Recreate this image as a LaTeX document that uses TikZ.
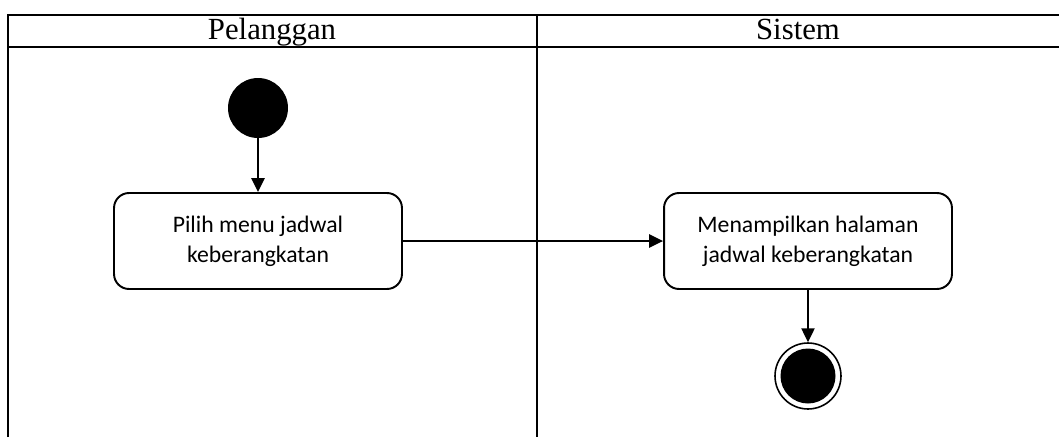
\documentclass[tikz,border=0pt]{standalone}
\usepackage{fontspec}
\setmainfont{Liberation Serif}
\newfontfamily\actfont{Carlito}
\usetikzlibrary{arrows.meta,positioning}
\tikzset{
    lanetitle/.style={font=\fontsize{17.5}{21}\selectfont, inner sep=0pt, anchor=base},
    laneline/.style={line width=0.6pt},
    action/.style={draw, line width=1.1pt, rounded corners=0.3cm, minimum width=5.76cm,
        minimum height=1.92cm, align=center, font=\actfont\fontsize{13.5}{17}\selectfont},
    initial/.style={circle, fill=black, minimum size=1.2cm, inner sep=0pt},
    final/.style={circle, draw, line width=0.9pt, minimum size=1.32cm, inner sep=0pt,
        path picture={\fill (path picture bounding box.center) circle (0.55cm);}},
    flow/.style={line width=0.9pt, -{Triangle[length=7.9pt, width=7.5pt]}}
}
\begin{document}
\begin{tikzpicture}[x=0.02cm, y=-0.02cm]
                        \useasboundingbox (0,0) rectangle (1059,437);
                        \draw[laneline] (8,437) -- (8,15) -- (1059,15);
                        \draw[laneline] (8,47) -- (1059,47);
                        \draw[laneline] (537,15) -- (537,437);
                        \node[lanetitle] (pelanggan) at (272,39) {Pelanggan};
                        \node[lanetitle] (sistem) at (798,39) {Sistem};
                        \node[initial] (start) at (258,108) {};
                        \node[action] (pilih) at (258,241) {Pilih menu jadwal\\keberangkatan};
                        \node[action] (tampil) at (808,241) {Menampilkan halaman\\jadwal keberangkatan};
                        \node[final] (end) at (808,376) {};
                        \draw[flow] (start) -- (pilih);
                        \draw[flow] (pilih) -- (tampil);
                        \draw[flow] (tampil) -- (end);
                    \end{tikzpicture}
\end{document}
